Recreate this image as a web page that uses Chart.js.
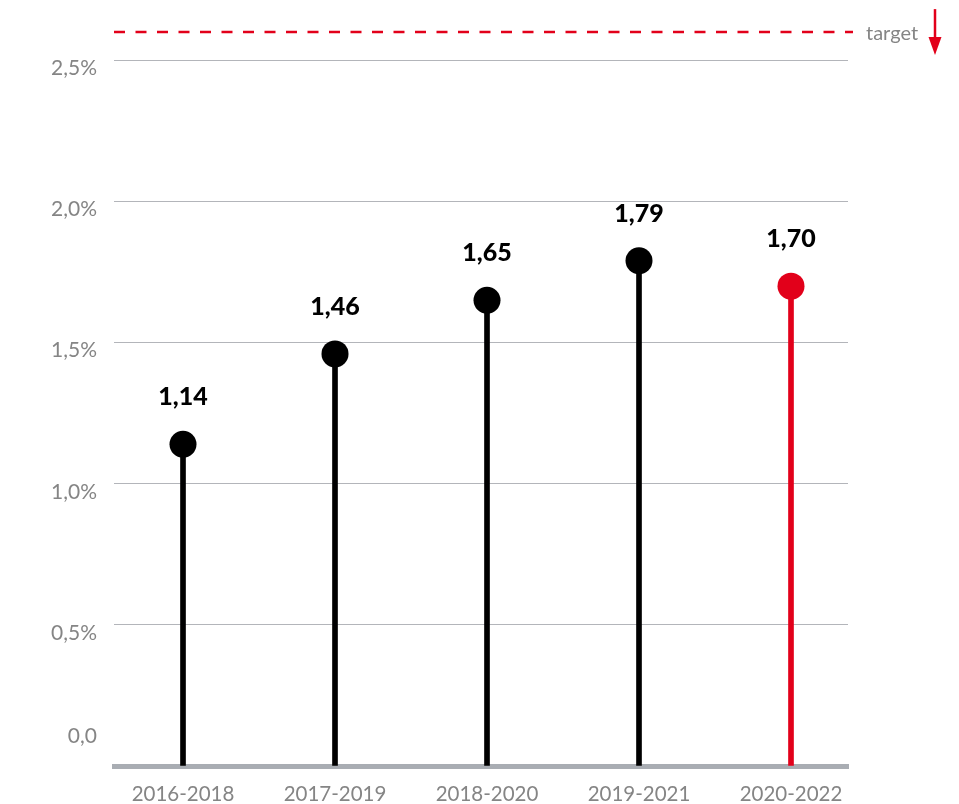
<!DOCTYPE html>
<html>
<head>
<meta charset="utf-8">
<script src="https://cdn.jsdelivr.net/npm/chart.js@4.4.1/dist/chart.umd.min.js"></script>
<style>
  html, body { margin: 0; padding: 0; background: #ffffff; }
  #wrap { width: 959px; height: 804px; }
</style>
</head>
<body>
<div id="wrap"><canvas id="chart" width="959" height="804"></canvas></div>
<script>
// Three-year periods and their rates (%)
const categories = ['2016-2018', '2017-2019', '2018-2020', '2019-2021', '2020-2022'];
const values = [1.14, 1.46, 1.65, 1.79, 1.70];
const highlighted = [false, false, false, false, true];
const yTickValues = [0, 0.5, 1.0, 1.5, 2.0, 2.5];
const targetValue = 2.6;
const targetLabel = 'target';

const RED = '#e2001a';
const BLACK = '#000000';
const GREY_TEXT = '#858585';
const FONT = 'Lato, "Open Sans", sans-serif';

const colors = highlighted.map(h => h ? RED : BLACK);
const points = values.map((v, i) => ({ x: i, y: v }));

const fmt = v => v.toFixed(2).replace('.', ',');

// Value labels above each lollipop head
const valueLabels = {
  id: 'valueLabels',
  afterDatasetsDraw(chart) {
    const meta = chart.getDatasetMeta(1);
    const ctx = chart.ctx;
    ctx.save();
    ctx.font = '900 25px ' + FONT;
    ctx.fillStyle = BLACK;
    ctx.textAlign = 'center';
    ctx.textBaseline = 'middle';
    meta.data.forEach((el, i) => {
      ctx.fillText(fmt(values[i]), el.x, el.y - 47);
    });
    ctx.restore();
  }
};

// Dashed target line with label and downward arrow
const targetLine = {
  id: 'targetLine',
  afterDraw(chart) {
    const { ctx, chartArea } = chart;
    const y = chart.scales.y.getPixelForValue(targetValue);
    ctx.save();
    ctx.strokeStyle = RED;
    ctx.lineWidth = 2.5;
    ctx.setLineDash([11, 10.5]);
    ctx.beginPath();
    ctx.moveTo(chartArea.left, y);
    ctx.lineTo(chartArea.right + 5, y);
    ctx.stroke();
    ctx.setLineDash([]);

    ctx.font = '400 20px ' + FONT;
    ctx.fillStyle = GREY_TEXT;
    ctx.textAlign = 'left';
    ctx.textBaseline = 'middle';
    ctx.fillText(targetLabel, chartArea.right + 18, y + 1);

    const ax = chartArea.right + 87;
    ctx.strokeStyle = RED;
    ctx.fillStyle = RED;
    ctx.lineWidth = 2.5;
    ctx.beginPath();
    ctx.moveTo(ax, y - 23);
    ctx.lineTo(ax, y + 8);
    ctx.stroke();
    ctx.beginPath();
    ctx.moveTo(ax - 6.5, y + 5);
    ctx.lineTo(ax + 6.5, y + 5);
    ctx.lineTo(ax, y + 23);
    ctx.closePath();
    ctx.fill();
    ctx.restore();
  }
};

new Chart(document.getElementById('chart'), {
  type: 'bar',
  data: {
    datasets: [
      {
        type: 'bar',
        data: points,
        backgroundColor: colors,
        borderWidth: 0,
        barThickness: 5,
        order: 2
      },
      {
        type: 'scatter',
        data: points,
        pointRadius: 13.5,
        pointHoverRadius: 13.5,
        pointBackgroundColor: colors,
        pointBorderWidth: 0,
        showLine: false,
        order: 1
      }
    ]
  },
  options: {
    responsive: false,
    animation: false,
    events: [],
    layout: { padding: { top: 18, right: 111, left: 0, bottom: 0 } },
    plugins: { legend: { display: false }, tooltip: { enabled: false } },
    scales: {
      x: {
        type: 'linear',
        min: -0.454,
        max: 4.375,
        offset: false,
        afterBuildTicks: s => { s.ticks = categories.map((_, i) => ({ value: i })); },
        afterFit: s => { s.height = 38; s.paddingLeft = 0; s.paddingRight = 0; },
        grid: { display: false, drawTicks: false, offset: false },
        border: { display: true, color: '#a9adb3', width: 5 },
        ticks: {
          padding: 16,
          color: GREY_TEXT,
          font: { family: FONT, size: 20.5, weight: '400' },
          maxRotation: 0,
          autoSkip: false,
          callback: v => categories[v]
        }
      },
      y: {
        min: 0,
        max: 2.65,
        afterBuildTicks: s => { s.ticks = yTickValues.map(v => ({ value: v })); },
        afterFit: s => { s.width = 114; s.paddingTop = 0; s.paddingBottom = 0; },
        grid: { color: '#b3b5ba', lineWidth: 1, drawTicks: false },
        border: { display: false },
        ticks: {
          padding: 17,
          labelOffset: 8,
          autoSkip: false,
          color: GREY_TEXT,
          font: ctx => ({
            family: FONT,
            size: 21,
            weight: '400',
            lineHeight: ctx.tick && ctx.tick.value === 0 ? 3.6 : 1.2
          }),
          callback: v => v === 0 ? ['0,0', ''] : v.toFixed(1).replace('.', ',') + '%'
        }
      }
    }
  },
  plugins: [valueLabels, targetLine]
});
</script>
</body>
</html>
